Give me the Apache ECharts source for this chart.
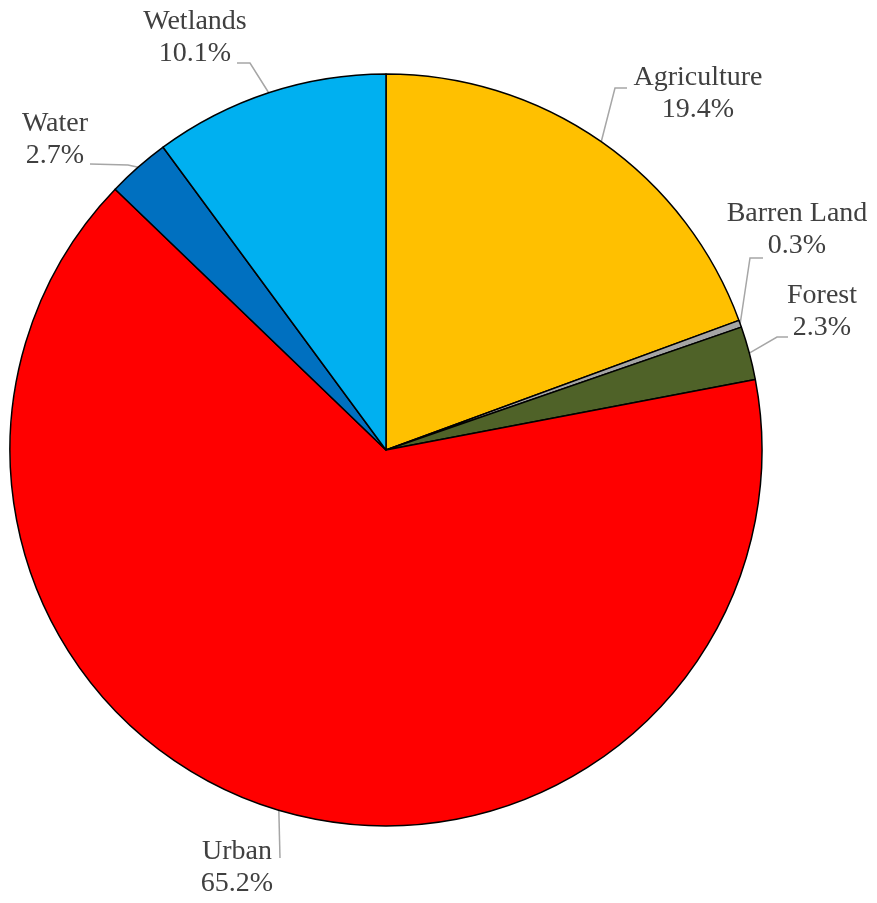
<!DOCTYPE html>
<html><head><meta charset="utf-8">
<script src="https://cdn.jsdelivr.net/npm/echarts@6/dist/echarts.min.js"></script>
<style>html,body{margin:0;padding:0;background:#fff}#c{width:877px;height:903px}</style>
</head><body><div id="c"></div>
<script>
const categories = ['Agriculture','Barren Land','Forest','Urban','Water','Wetlands'];
const values = [19.4, 0.3, 2.3, 65.2, 2.7, 10.1];
const colors = ['#FFC000','#A5A5A5','#4F6228','#FF0000','#0070C0','#00B0F0'];
// label block centres (layout only)
const labelPos = [[698,94],[797,230],[822,312],[237,868],[55,140],[195,38]];
// leader-line bend and end points (layout only)
const leaderBend = [[615,88],[750,258],[777,337],[280,858],[128,165],[250,63]];
const leaderEnd  = [[627,88],[763,258],[788,337],[280,858],[90,164],[237,63]];

const chart = echarts.init(document.getElementById('c'));
chart.setOption({
  animation:false,
  series:[{
    type:'pie',
    center:[386,450],
    radius:376,
    startAngle:90,
    clockwise:true,
    data: categories.map((n,i)=>({name:n,value:values[i],itemStyle:{color:colors[i]}})),
    itemStyle:{borderColor:'#000',borderWidth:1.5},
    label:{show:true,formatter:p=>p.name+'\n'+p.value.toFixed(1)+'%',overflow:'none',
      fontFamily:'Liberation Serif',fontSize:28,color:'#404040',lineHeight:32,align:'center'},
    labelLine:{show:true,lineStyle:{color:'#A6A6A6',width:1.5},length:15,length2:10},
    labelLayout:function(p){
      const i = p.dataIndex;
      const pos = labelPos[i];
      const start = p.labelLinePoints ? p.labelLinePoints[0] : leaderBend[i];
      return {x:pos[0],y:pos[1],align:'center',verticalAlign:'middle',
        labelLinePoints:[start, leaderBend[i], leaderEnd[i]]};
    }
  }]
});
</script></body></html>
